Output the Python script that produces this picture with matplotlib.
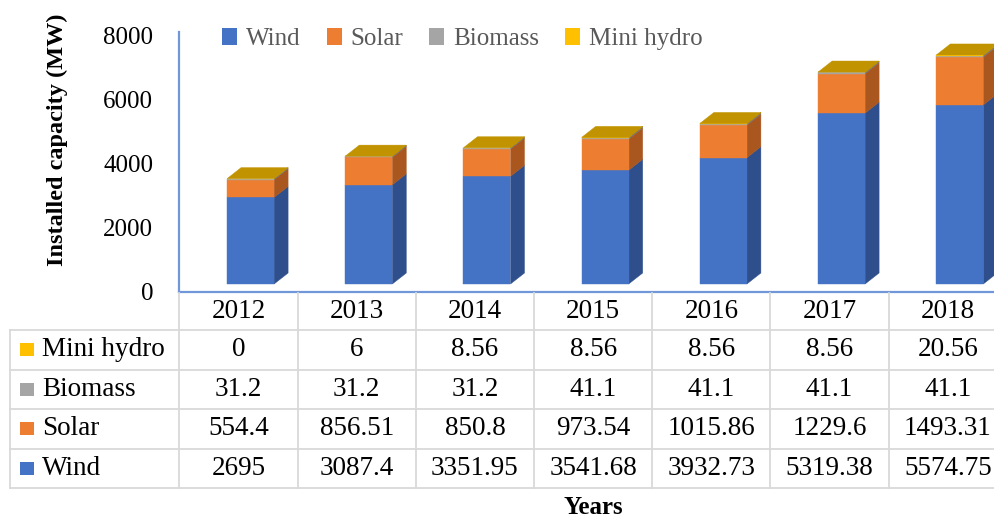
import matplotlib
matplotlib.use('Agg')
import matplotlib.pyplot as plt
from matplotlib.patches import Rectangle, Polygon, Patch
from matplotlib.lines import Line2D
from matplotlib.transforms import blended_transform_factory

# ---------------- data ----------------
years = ['2012', '2013', '2014', '2015', '2016', '2017', '2018']
wind = [2695, 3087.4, 3351.95, 3541.68, 3932.73, 5319.38, 5574.75]
solar = [554.4, 856.51, 850.8, 973.54, 1015.86, 1229.6, 1493.31]
biomass = [31.2, 31.2, 31.2, 41.1, 41.1, 41.1, 41.1]
mini_hydro = [0, 6, 8.56, 8.56, 8.56, 8.56, 20.56]
series_names = ['Wind', 'Solar', 'Biomass', 'Mini hydro']
y_ticks = [0, 2000, 4000, 6000, 8000]

# ---------------- style ----------------
front_colors = ['#4472C4', '#ED7D31', '#A5A5A5', '#FFC000']
side_colors = ['#2E4E8C', '#A9561F', '#747474', '#B38700']
top_color = '#C19300'
axis_color = '#7196DA'
grid_color = '#D9D9D9'

plt.rcParams['font.family'] = ['Liberation Serif', 'DejaVu Serif']

W, H = 995, 519
fig = plt.figure(figsize=(W / 100, H / 100), dpi=100)


def fx(p):
    return p / W


def fy(p):
    return 1 - p / H


col_px = 118.2
ax_left, ax_top, ax_bot = 179.5, 32, 292
ax_right = ax_left + len(years) * col_px
zero_px, top_tick_px = 292, 35
px_per_unit = (zero_px - top_tick_px) / y_ticks[-1]

ax = fig.add_axes([fx(ax_left), fy(ax_bot), fx(ax_right - ax_left), (ax_bot - ax_top) / H])
ax.set_xlim(-0.5, len(years) - 0.5)
ax.set_ylim(0, (ax_bot - ax_top) / px_per_unit)
ax.set_yticks(y_ticks)
ax.set_yticklabels([str(t) for t in y_ticks], fontsize=18)
ax.tick_params(axis='y', length=0, pad=19)
ax.set_xticks([])
for s in ['top', 'right']:
    ax.spines[s].set_visible(False)
for s in ['left', 'bottom']:
    ax.spines[s].set_color(axis_color)
    ax.spines[s].set_linewidth(1.6)

# 3D bar geometry (pixel -> data units)
bw = 47 / col_px
sx = 12 / col_px
lift = 8 / px_per_unit
ddx = 14 / col_px
ddy = 11 / px_per_unit

series = [wind, solar, biomass, mini_hydro]
for i in range(len(years)):
    cum = lift
    x0 = i + sx - bw / 2
    x1 = x0 + bw
    for k, vals in enumerate(series):
        h = vals[i]
        b = cum
        t = b + h
        ax.add_patch(Polygon([(x1, b), (x1 + ddx, b + ddy), (x1 + ddx, t + ddy), (x1, t)],
                             closed=True, facecolor=side_colors[k], edgecolor=side_colors[k],
                             linewidth=0.3, zorder=2))
        ax.add_patch(Rectangle((x0, b), bw, h, facecolor=front_colors[k],
                               edgecolor=front_colors[k], linewidth=0.3, zorder=3))
        cum = t
    ax.add_patch(Polygon([(x0, cum), (x1, cum), (x1 + ddx, cum + ddy), (x0 + ddx, cum + ddy)],
                         closed=True, facecolor=top_color, edgecolor=top_color,
                         linewidth=0.3, zorder=4))

# legend
handles = [Patch(facecolor=c, edgecolor='none') for c in front_colors]
leg = fig.legend(handles, series_names, loc='center left',
                 bbox_to_anchor=(fx(222), fy(39)), ncol=4, frameon=False,
                 fontsize=18, handlelength=0.6, handleheight=0.65,
                 handletextpad=0.35, columnspacing=1.05, borderpad=0, borderaxespad=0)
for txt in leg.get_texts():
    txt.set_color('#595959')

# ---------------- data table ----------------
bt = blended_transform_factory(ax.transData, fig.transFigure)
row_edges = [293, 330, 369.5, 409, 448.5, 488]
label_left_px = 10
lbl_left = (label_left_px - ax_left) / col_px - 0.5
right_edge = len(years) - 0.5
lw_t = 1.3

for yp in row_edges[1:]:
    fig.add_artist(Line2D([lbl_left, right_edge], [fy(yp), fy(yp)], transform=bt,
                          color=grid_color, lw=lw_t))
for j in range(len(years) + 1):
    xv = j - 0.5
    fig.add_artist(Line2D([xv, xv], [fy(row_edges[0]), fy(row_edges[-1])], transform=bt,
                          color=grid_color, lw=lw_t))
fig.add_artist(Line2D([lbl_left, lbl_left], [fy(row_edges[1]), fy(row_edges[-1])],
                      transform=bt, color=grid_color, lw=lw_t))

tfs = 19.5
hy = (row_edges[0] + row_edges[1]) / 2
for i, yr in enumerate(years):
    fig.text(i, fy(hy), yr, transform=bt, ha='center', va='center', fontsize=tfs)

rows = [('Mini hydro', mini_hydro, front_colors[3]),
        ('Biomass', biomass, front_colors[2]),
        ('Solar', solar, front_colors[1]),
        ('Wind', wind, front_colors[0])]
for r, (name, vals, col) in enumerate(rows):
    yc = (row_edges[r + 1] + row_edges[r + 2]) / 2
    for i, v in enumerate(vals):
        fig.text(i, fy(yc), f'{v:g}', transform=bt, ha='center', va='center', fontsize=tfs)
    fig.add_artist(Rectangle((fx(20), fy(yc + 6.5)), fx(14), 13 / H, transform=fig.transFigure,
                             facecolor=col, edgecolor='none'))
    fig.text(fx(42), fy(yc), name, ha='left', va='center', fontsize=tfs)

# axis titles
fig.text(fx(57), fy(140), 'Installed capacity (MW)', rotation=90, ha='center', va='center',
         fontsize=17.5, fontweight='bold')
fig.text((len(years) - 1) / 2, fy(508), 'Years', transform=bt, ha='center', va='center',
         fontsize=18, fontweight='bold')

fig.savefig('out.png', dpi=100)
